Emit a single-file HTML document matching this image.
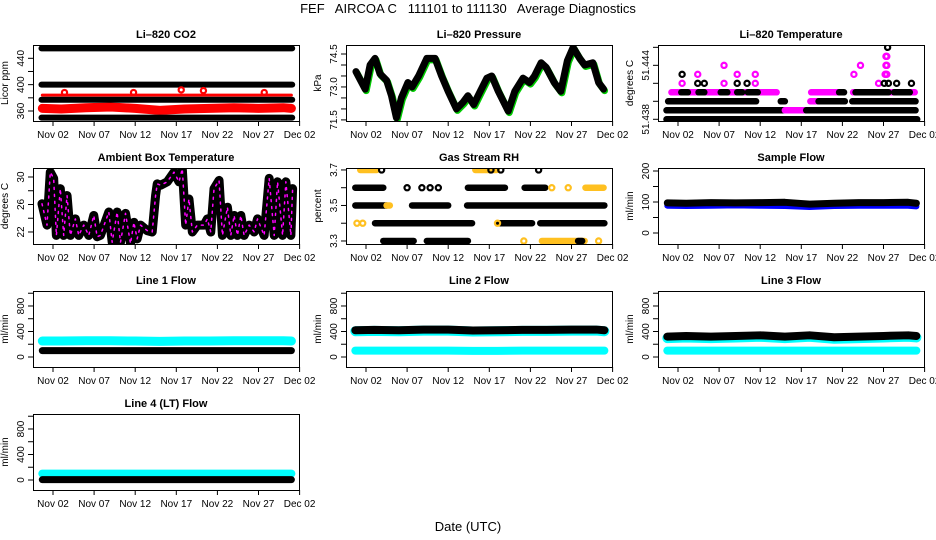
<!DOCTYPE html>
<html><head><meta charset="utf-8"><style>
html,body{margin:0;padding:0;background:#fff;}
svg{display:block;font-family:"Liberation Sans",sans-serif;}
.pre{white-space:pre;}
</style></head><body>
<svg id="chart" width="936" height="540" viewBox="0 0 936 540" xmlns="http://www.w3.org/2000/svg">
<rect x="0" y="0" width="936" height="540" fill="#fff"/>
<text class="pre" xml:space="preserve" x="468" y="13" font-size="13" text-anchor="middle">FEF   AIRCOA C   111101 to 111130   Average Diagnostics</text>
<text x="468" y="531" font-size="13" text-anchor="middle">Date (UTC)</text>
</svg>
<script>
// ---------- data ----------
const xTickDays = [2,7,12,17,22,27,32];
const xTickLabels = ["Nov 02","Nov 07","Nov 12","Nov 17","Nov 22","Nov 27","Dec 02"];
const dailyT = [0.7,3,6,9,12,15,18,21,24,27,30,31];

// Li-820 CO2
const co2BlackBands = [455,400,377,350];
const co2RedBand = [364,363,365,366,364,361,363,364,365,364,365,364];
const co2RedLine = [384,384,384,384,384,384,384,384,384,384,384,384];
const co2OutlierT = [3.4,11.8,17.6,20.3,27.7];
const co2OutlierV = [388,388,392,391,388];

// Li-820 Pressure
const presT = [0.78,1.9,2.5,3.1,3.7,4.5,5.1,5.7,6.3,7.1,7.6,8.4,9.4,10.4,11.2,12.0,13.0,13.8,14.4,15.1,15.9,16.7,17.3,18.1,19.3,20.1,21.1,21.9,22.5,23.3,23.9,24.9,25.7,26.5,27.2,28.0,28.6,29.6,30.3,30.9];
const presV = [73.7,72.9,74.0,74.3,73.6,73.3,72.6,71.6,72.5,73.2,73.0,73.5,74.3,74.3,73.5,72.8,72.0,72.3,72.6,72.2,72.8,73.4,73.5,72.8,71.9,72.8,73.4,73.2,73.5,74.1,73.9,73.2,72.8,74.2,74.8,74.3,74.0,74.1,73.2,72.9];

// Li-820 Temperature (level k => 51.438 + 0.001k)
const ltSegT0 = [0.6,0.6,15.0,17.6,0.8,14.5,18.1,19.1,23.2,1.2,18.2,23.3,2.4,4.5,7.2,9.2,10.5,21.6,23.6,26.8,28.3];
const ltSegT1 = [31.1,15.0,17.6,30.9,11.5,15.0,19.1,22.3,30.9,14.0,21.7,30.8,3.2,5.2,8.0,9.8,11.7,22.2,27.0,27.6,30.2];
const ltSegL = [0,1,1,1,2,2,2,2,2,3,3,3,3,3,3,3,3,3,3,3,3];
const ltSegC = ["k","k","m","k","k","k","m","k","k","m","m","m","k","k","k","k","k","k","k","k","k"];
const ltPtT = [2.5,4.4,5.2,7.6,9.2,10.4,11.4,26.4,27.1,27.6,28.6,30.4,2.5,4.4,9.2,11.4,23.4,27.2,27.3,27.4,7.6,24.2,27.3,27.4,27.3,27.4,27.5];
const ltPtL = [4,4,4,4,4,4,4,4,4,4,4,4,5,5,5,5,5,5,5,5,6,6,6,6,7,7,8];
const ltPtC = ["m","k","k","m","k","k","m","m","k","k","k","k","k","m","m","m","m","m","m","m","m","m","m","m","m","m","k"];

// Ambient box temperature
const ambT = [0.66,1.27,1.67,2.08,2.41,2.89,3.30,3.71,4.11,4.72,5.13,5.74,6.35,6.96,7.37,7.77,8.79,9.20,9.80,10.21,10.82,11.43,11.84,12.24,12.65,13.46,14.07,14.48,14.68,15.09,15.90,16.72,17.33,17.73,18.14,18.54,18.95,19.56,20.37,20.78,21.19,21.59,22.20,22.61,23.22,23.63,24.03,24.44,24.85,25.25,25.86,26.47,26.88,27.69,28.30,28.91,29.32,29.93,30.33,30.94,31.15];
const ambV = [26.1,23.0,30.7,29.8,21.5,28.3,21.5,27.3,21.5,23.9,21.5,23.0,21.5,24.4,21.3,21.5,24.9,20.5,24.9,20.5,24.7,20.3,23.4,21.0,23.0,22.2,22.0,27.3,29.0,28.8,29.3,30.7,29.3,31.2,23.0,26.8,22.0,23.0,23.0,23.9,22.0,28.3,29.5,21.5,25.6,21.5,24.4,21.5,24.4,21.5,23.0,22.0,23.9,21.5,29.8,21.5,29.3,21.5,29.3,21.5,28.3];

// Gas stream RH
const rhSegT0 = [1.3,15.3,0.7,14.4,21.3,28.7,0.7,4.5,7.6,14.3,3.1,18.1,23.2,4.1,9.4,23.4,27.8];
const rhSegT1 = [3.3,17.9,4.1,18.9,23.8,30.9,4.5,4.9,12.0,31.0,14.9,22.2,31.0,7.8,14.4,28.6,28.3];
const rhSegV = [3.7,3.7,3.6,3.6,3.6,3.6,3.5,3.5,3.5,3.5,3.4,3.4,3.4,3.3,3.3,3.3,3.3];
const rhSegC = ["y","y","k","k","k","y","k","y","k","k","k","k","k","k","k","y","k"];
const rhPtT = [3.9,17.2,18.4,23.0,7.0,8.8,9.8,10.8,24.6,26.6,0.9,1.6,18.0,21.2,30.3];
const rhPtV = [3.7,3.7,3.7,3.7,3.6,3.6,3.6,3.6,3.6,3.6,3.4,3.4,3.4,3.3,3.3];
const rhPtC = ["k","k","k","k","k","k","k","k","y","y","y","y","y","y","y"];

// Flows
const sampleBlack = [97,96,98,97,98,99,93,96,98,98,99,96];
const sampleBlue = [88,87,88,89,88,87,84,87,88,88,88,86];
const l1Cyan = [250,250,255,255,250,245,250,250,255,255,255,250];
const l1Black = [100,100,100,100,100,100,100,100,100,100,100,100];
const l2Black = [420,425,420,430,430,415,420,425,425,430,430,420];
const l2Cyan = [100,100,100,100,100,95,95,100,100,100,100,100];
const l3Black = [320,330,320,330,340,320,340,310,320,330,340,330];
const l3Cyan = [100,100,100,100,100,100,100,100,100,100,100,100];
const l4Cyan = [100,100,100,100,100,100,100,100,100,100,100,100];
const l4Black = [5,5,5,5,5,5,5,5,5,5,5,5];

// ---------- helpers ----------
const NS = "http://www.w3.org/2000/svg";
const svg = document.getElementById("chart");
const COLORS = {k:"#000000", m:"#ff00ff", y:"#ffc020", r:"#ff0000", g:"#00cc00", c:"#00ffff", b:"#0000ff"};
function mk(tag, attrs, parent){
  const e = document.createElementNS(NS, tag);
  for (const k in attrs) e.setAttribute(k, attrs[k]);
  (parent||svg).appendChild(e);
  return e;
}
function X(p,t){ return p.left + 20 + (t-2)*8.22; }
function Y(p,v){ return p.top + (p.yMax - v)/(p.yMax - p.yMin)*p.h; }

function panel(name, title, ylab, left, top, yMin, yMax, ticks, labels, labelText){
  const p = {left, top, w:266, h:76, yMin, yMax};
  const g = mk("g", {});
  
  
  p.g = g;
  const t = mk("text", {x:left+133, y:top-7, "font-size":"11", "font-weight":"bold", "text-anchor":"middle"}, g);
  t.textContent = title;
  
  
  const yl = mk("text", {transform:`translate(${left-25},${top+38}) rotate(-90)`, "font-size":"10", "text-anchor":"middle"}, g);
  yl.textContent = ylab;
  
  
  ticks.forEach(v=>{
    const y = Y(p,v);
    const tk = mk("line", {x1:left-5, x2:left, y1:y, y2:y, stroke:"#000", "stroke-width":1}, g);
    
    
  });
  labels.forEach((v,i)=>{
    const y = Y(p,v);
    const lt = mk("text", {transform:`translate(${left-9},${y}) rotate(-90)`, "font-size":"10", "text-anchor":"middle"}, g);
    lt.textContent = labelText ? labelText[i] : String(v);
    
    
  });
  const xa = mk("line", {x1:left, x2:X(p,32), y1:top+p.h+0.5, y2:top+p.h+0.5, stroke:"#000"}, g);
  
  
  xTickDays.forEach((d,i)=>{
    const x = X(p,d);
    const tk = mk("line", {x1:x, x2:x, y1:top+p.h, y2:top+p.h+5, stroke:"#000"}, g);
    
    
    const tl = mk("text", {x:x, y:top+p.h+17, "font-size":"10", "text-anchor":"middle"}, g);
    tl.textContent = xTickLabels[i];
    
    
  });
  const cid = name + "-clip";
  const cp = mk("clipPath", {id:cid}, g);
  mk("rect", {x:left, y:top, width:p.w, height:p.h}, cp);
  p.plot = mk("g", {"clip-path":`url(#${cid})`}, g);
  
  
  const box = mk("rect", {x:left+0.5, y:top+0.5, width:p.w, height:p.h, fill:"none", stroke:"#000"}, g);
  
  
  return p;
}
function series(p, ts, vs, color, sw, nm, dx, dy){
  const pts = ts.map((t,i)=>`${X(p,t)+(dx||0)},${Y(p,vs[i])+(dy||0)}`).join(" ");
  const pl = mk("polyline", {points:pts, fill:"none", stroke:color, "stroke-width":sw, "stroke-linecap":"round", "stroke-linejoin":"round"}, p.plot);
  
  
  return pl;
}
function seg(p, t0, t1, v, color, sw, nm){
  const l = mk("line", {x1:X(p,t0), x2:X(p,t1), y1:Y(p,v), y2:Y(p,v), stroke:color, "stroke-width":sw, "stroke-linecap":"round"}, p.plot);
  
  
}
function ring(p, t, v, color, nm){
  const c = mk("circle", {cx:X(p,t), cy:Y(p,v), r:2.6, fill:"none", stroke:color, "stroke-width":2.2}, p.plot);
  
  
}
function range(a,b,s){ const r=[]; for(let v=a; v<=b+1e-9; v+=s) r.push(+v.toFixed(4)); return r; }

// ---------- panels ----------
const pCO2 = panel("co2","Li\u2013820 CO2","Licor ppm",33,45,344.8,460.2,range(360,440,20),[360,400,440]);
seg(pCO2,0.6,31.1,co2BlackBands[0],COLORS.k,6,"co2-black-band");
seg(pCO2,0.6,31.1,co2BlackBands[1],COLORS.k,6,"co2-black-band");
series(pCO2,dailyT,co2RedBand,COLORS.r,9,"co2-red-band");
series(pCO2,dailyT,co2RedLine,COLORS.r,3,"co2-red-line");
seg(pCO2,0.6,31.1,co2BlackBands[2],COLORS.k,6,"co2-black-band");
seg(pCO2,0.6,31.1,co2BlackBands[3],COLORS.k,6,"co2-black-band");
co2OutlierT.forEach((t,i)=>ring(pCO2,t,co2OutlierV[i],COLORS.r,"co2-outlier"));

const pPres = panel("pressure","Li\u2013820 Pressure","kPa",346,45,71.45,74.91,range(71.5,74.5,0.5),[71.5,73.0,74.5],["71.5","73.0","74.5"]);
series(pPres,presT,presV,COLORS.g,7,"pressure-green-series",1,1.5);
series(pPres,presT,presV,COLORS.k,7,"pressure-black-series");

const pLT = panel("licor-temp","Li\u2013820 Temperature","degrees C",658,45,-0.19,8.26,[0,2,4,6,8],[0,6],["51.438","51.444"]);
ltSegT0.forEach((t,i)=>seg(pLT,t,ltSegT1[i],ltSegL[i],COLORS[ltSegC[i]],6.5,"licor-temp-band"));
ltPtT.forEach((t,i)=>ring(pLT,t,ltPtL[i],COLORS[ltPtC[i]],"licor-temp-point"));

const pAmb = panel("ambient","Ambient Box Temperature","degrees C",33,168,20.25,31.31,range(22,30,2),[22,26,30]);
series(pAmb,ambT,ambV,COLORS.k,9,"ambient-black-series");
series(pAmb,ambT,ambV,COLORS.m,1.5,"ambient-magenta-series").setAttribute("stroke-dasharray","2 5");

const pRH = panel("rh","Gas Stream RH","percent",346,168,3.283,3.711,range(3.3,3.7,0.1),[3.3,3.5,3.7]);
rhSegT0.forEach((t,i)=>seg(pRH,t,rhSegT1[i],rhSegV[i],COLORS[rhSegC[i]],6.5,"rh-band"));
rhPtT.forEach((t,i)=>ring(pRH,t,rhPtV[i],COLORS[rhPtC[i]],"rh-point"));

const pSF = panel("sample-flow","Sample Flow","ml/min",658,168,-35.5,209.7,range(0,200,50),[0,100,200]);
series(pSF,dailyT,sampleBlue,COLORS.b,6,"sample-flow-blue");
series(pSF,dailyT,sampleBlack,COLORS.k,7,"sample-flow-black");

const fTicks = range(0,1000,200), fLabels=[0,400,800];
const pL1 = panel("line1-flow","Line 1 Flow","ml/min",33,291,-157,1035,fTicks,fLabels);
series(pL1,dailyT,l1Cyan,COLORS.c,9,"line1-cyan");
series(pL1,dailyT,l1Black,COLORS.k,7,"line1-black");
const pL2 = panel("line2-flow","Line 2 Flow","ml/min",346,291,-157,1035,fTicks,fLabels);
series(pL2,dailyT,l2Cyan,COLORS.c,8,"line2-cyan-low");
series(pL2,dailyT,l2Black,COLORS.c,10,"line2-cyan-high",0,1);
series(pL2,dailyT,l2Black,COLORS.k,8,"line2-black");
const pL3 = panel("line3-flow","Line 3 Flow","ml/min",658,291,-157,1035,fTicks,fLabels);
series(pL3,dailyT,l3Cyan,COLORS.c,8,"line3-cyan-low");
series(pL3,dailyT,l3Black,COLORS.c,10,"line3-cyan-high",0,1.5);
series(pL3,dailyT,l3Black,COLORS.k,8,"line3-black");
const pL4 = panel("line4-flow","Line 4 (LT) Flow","ml/min",33,414,-157,1035,fTicks,fLabels);
series(pL4,dailyT,l4Cyan,COLORS.c,8,"line4-cyan");
series(pL4,dailyT,l4Black,COLORS.k,7,"line4-black");
</script>
</body></html>
